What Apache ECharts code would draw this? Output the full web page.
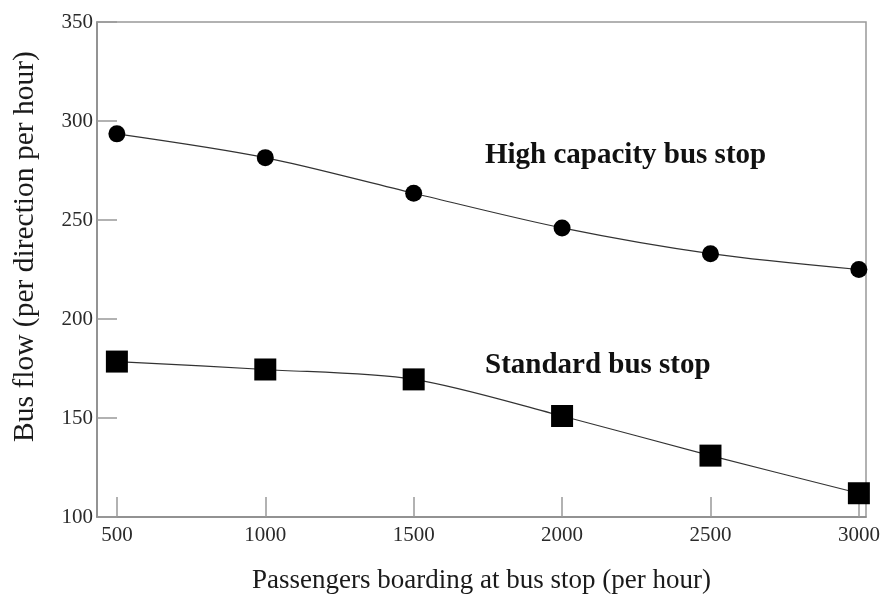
<!DOCTYPE html>
<html>
<head>
<meta charset="utf-8">
<script src="https://cdn.jsdelivr.net/npm/echarts@6/dist/echarts.min.js"></script>
<style>
html,body{margin:0;padding:0;background:#fff;}
#chart{width:891px;height:600px;}
</style>
</head>
<body>
<div id="chart"></div>
<script>
// passengers boarding (per hour)
var boarding = [500, 1000, 1500, 2000, 2500, 3000];
// bus flow values
var highCapacity = [293.5, 281.5, 263.5, 246, 233, 225];
var standard = [178.5, 174.5, 169.5, 151, 131, 112];
var yTicks = [100, 150, 200, 250, 300, 350];

var serif = "Liberation Serif";

function pairs(xs, ys) {
    var out = [];
    for (var i = 0; i < xs.length; i++) {
        out.push([xs[i], ys[i]]);
    }
    return out;
}

var myChart = echarts.init(document.getElementById("chart"));
var option = {
    backgroundColor: "#fff",
    animation: false,
    grid: {
        left: 97,
        right: 25,
        top: 22,
        bottom: 83,
        show: true,
        borderColor: "#999",
        borderWidth: 1.5
    },
    xAxis: {
        type: "value",
        min: 433,
        max: 3024,
        name: "Passengers boarding at bus stop (per hour)",
        nameLocation: "middle",
        nameGap: 50,
        nameTextStyle: {fontFamily: serif, fontSize: 27, color: "#1a1a1a"},
        axisLine: {show: true, lineStyle: {color: "#888", width: 1.5}},
        axisTick: {show: true, inside: true, length: 20, customValues: boarding, lineStyle: {color: "#999", width: 1.5}},
        axisLabel: {
            customValues: boarding,
            formatter: function (v) { return String(v); },
            fontFamily: serif, fontSize: 21, color: "#2a2a2a", margin: 8
        },
        splitLine: {show: false}
    },
    yAxis: {
        type: "value",
        min: 100,
        max: 350,
        name: "Bus flow (per direction per hour)",
        nameLocation: "middle",
        nameGap: 57,
        nameTextStyle: {fontFamily: serif, fontSize: 29.5, color: "#1a1a1a", padding: [0, 0, 0, 46]},
        axisLine: {show: true, lineStyle: {color: "#888", width: 1.5}},
        axisTick: {show: true, inside: true, length: 20, customValues: yTicks, lineStyle: {color: "#999", width: 1.5}},
        axisLabel: {customValues: yTicks, fontFamily: serif, fontSize: 21, color: "#2a2a2a", margin: 4},
        splitLine: {show: false}
    },
    series: [
        {
            name: "High capacity bus stop",
            type: "line",
            smooth: 0.3,
            symbol: "circle",
            symbolSize: 17,
            itemStyle: {color: "#000"},
            lineStyle: {color: "#333", width: 1.2},
            data: pairs(boarding, highCapacity)
        },
        {
            name: "Standard bus stop",
            type: "line",
            smooth: 0.3,
            symbol: "rect",
            symbolSize: 22,
            itemStyle: {color: "#000"},
            lineStyle: {color: "#333", width: 1.2},
            data: pairs(boarding, standard)
        }
    ],
    graphic: [
        {
            type: "text",
            left: 485,
            top: 141,
            style: {text: "High capacity bus stop", font: "bold 29px " + serif, fill: "#111"}
        },
        {
            type: "text",
            left: 485,
            top: 351,
            style: {text: "Standard bus stop", font: "bold 29px " + serif, fill: "#111"}
        }
    ]
};
myChart.setOption(option);
</script>
</body>
</html>
